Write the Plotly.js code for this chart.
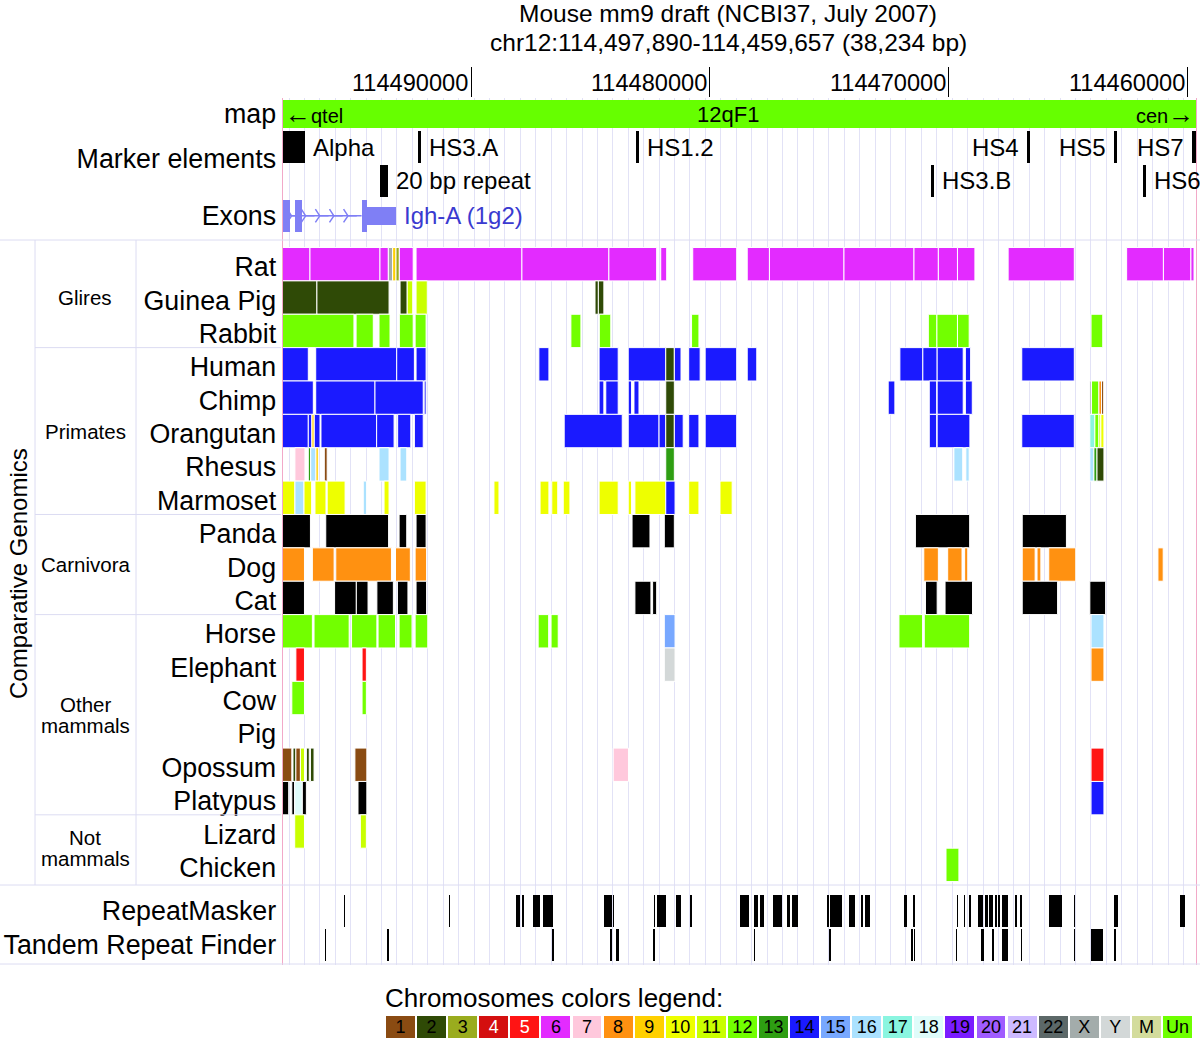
<!DOCTYPE html>
<html><head><meta charset="utf-8">
<script src="https://cdn.plot.ly/plotly-3.0.1.min.js"></script>
<style>html,body{margin:0;padding:0;background:#fff}#chart{width:1200px;height:1039px}</style>
</head><body><div id="chart"></div>
<script>
// ================= DATA =================
const windowStart = 114497890, windowEnd = 114459657;
const titleLines = ['Mouse mm9 draft (NCBI37, July 2007)', 'chr12:114,497,890-114,459,657 (38,234 bp)'];
const axisTicks = [114490000, 114480000, 114470000, 114460000];
const guideStart = 114497618, guideStep = 645.5;   // browser guide lines

const chromNames  = ['1','2','3','4','5','6','7','8','9','10','11','12','13','14','15','16','17','18','19','20','21','22','X','Y','M','Un'];
const chromColors = ['#8a4b12','#2f4a06','#9aac1e','#d40f0f','#ff1414','#e32bff','#ffc8dc','#ff9111','#ffd000','#eeff00','#c9ff00','#72ff00','#2e9e12','#1a1aff','#78a8ff','#abe2ff','#8af5e0','#dffcfa','#7a1cff','#a05cff','#cdbaff','#5c6868','#a3acab','#d3d8d8','#d3dc9c','#6eff00'];
const chromTextColors = ['#000','#000','#000','#fff','#fff','#000','#000','#000','#000','#000','#000','#000','#000','#000','#000','#000','#000','#000','#000','#000','#000','#000','#000','#000','#000','#000'];
const noChromColor = '#000000';   // 'none' = scaffold / unplaced

const mapBand = {name: '12qF1', left: 'qtel', right: 'cen', color: '#66ff00'};

const markerNames = ['Alpha','HS3.A','HS1.2','HS4','HS5','HS7','20 bp repeat','HS3.B','HS6'];
const markerFrom  = [114497860,114492240,114483110,114466710,114463100,114459810,114493790,114470730,114461890];
const markerTo    = [114496930,114492110,114482990,114466590,114462980,114459660,114493460,114470620,114461770];
const markerLine  = [1,1,1,1,1,1,2,2,2];
const markerSide  = ['right','right','right','left','left','left','right','right','right'];

const geneName = 'Igh-A (1g2)';
const exonBlocks = [[114497860,114497590],[114497350,114497060],[114494580,114494370]];
const exonThin   = [[114494370,114493140]];
const intron     = [114497590,114494580];

const species = ['Rat','Guinea Pig','Rabbit','Human','Chimp','Orangutan','Rhesus','Marmoset','Panda','Dog','Cat','Horse','Elephant','Cow','Pig','Opossum','Platypus','Lizard','Chicken'];
const groups = [['Glires',0,2],['Primates',3,7],['Carnivora',8,10],['Other|mammals',11,16],['Not|mammals',17,18]];

const rat = [[114497890,114496740,'6'],[114496740,114493810,'6'],[114493810,114493460,'6'],[114493460,114493280,'X'],[114493280,114493140,'9'],[114493140,114493000,'3'],[114493000,114492420,'6'],
 [114492300,114487870,'6'],[114487870,114484230,'6'],[114484230,114482230,'6'],[114482060,114481810,'6'],
 [114480720,114478880,'6'],[114478440,114477510,'6'],[114477510,114474390,'6'],[114474390,114471460,'6'],[114471460,114470440,'6'],[114470440,114469640,'6'],[114469640,114468910,'6'],
 [114467520,114464750,'6'],[114462560,114461020,'6'],[114461020,114459870,'6'],[114459870,114459740,'6']];
const guineaPig = [[114497890,114496450,'2'],[114496450,114493430,'2'],[114492970,114492670,'2'],[114492670,114492440,'11'],[114492300,114491830,'11'],[114484810,114484670,'2'],[114484670,114484440,'2']];
const rabbit = [[114497890,114494900,'12'],[114494810,114494090,'12'],[114493850,114493390,'12'],[114493000,114492420,'12'],[114492340,114491880,'12'],[114485820,114485400,'12'],[114484630,114484150,'12'],[114480770,114480460,'12'],[114470860,114470500,'12'],[114470500,114469640,'12'],[114469640,114469150,'12'],[114464050,114463560,'12']];
const human = [[114497890,114496810,'14'],[114496500,114493110,'14'],[114493110,114492370,'14'],[114492300,114491880,'14'],[114487160,114486740,'14'],[114484640,114483840,'14'],[114483420,114481850,'14'],[114481850,114481490,'2'],[114481490,114481210,'14'],[114480890,114480410,'14'],[114480200,114478880,'14'],[114478440,114478040,'14'],[114472050,114471090,'14'],[114471090,114470490,'14'],[114470490,114469400,'14'],[114469310,114469090,'14'],[114466950,114464750,'14']];
const chimp = [[114497890,114496600,'14'],[114496500,114494020,'14'],[114494020,114492000,'14'],[114491960,114491880,'14'],[114484640,114484440,'14'],[114484360,114483840,'14'],[114483420,114483280,'14'],[114483180,114482970,'14'],[114481850,114481490,'2'],[114472540,114472260,'14'],[114470820,114470510,'14'],[114470490,114469400,'14'],[114469310,114469020,'14'],[114464100,114464030,'X'],[114464030,114463720,'12'],[114463720,114463610,'8'],[114463610,114463520,'1']];
const orangutan = [[114497890,114496810,'14'],[114496810,114496660,'14'],[114496660,114496560,'9'],[114496560,114496320,'14'],[114496280,114493950,'14'],[114493950,114493220,'14'],[114493070,114492520,'14'],[114492370,114492000,'14'],[114486100,114483670,'14'],[114483420,114482130,'14'],[114482130,114481850,'14'],[114481850,114481490,'2'],[114481490,114481120,'14'],[114480890,114480460,'14'],[114480200,114478880,'14'],[114470820,114470510,'14'],[114470490,114469120,'14'],[114466950,114464750,'14'],[114464100,114463890,'17'],[114463890,114463720,'12'],[114463720,114463640,'11'],[114463640,114463510,'10']];
const rhesus = [[114497370,114496950,'7'],[114496810,114496710,'13'],[114496710,114496490,'16'],[114496490,114496390,'9'],[114496140,114496020,'1'],[114493850,114493430,'16'],[114492970,114492690,'16'],[114481850,114481490,'13'],[114469790,114469420,'16'],[114469290,114469150,'16'],[114464100,114463930,'16'],[114463930,114463800,'13'],[114463800,114463510,'2']];
const marmoset = [[114497890,114497370,'10'],[114497370,114496990,'16'],[114496990,114496670,'10'],[114496530,114496070,'10'],[114496020,114495270,'10'],[114494510,114494370,'16'],[114493640,114493430,'10'],[114492370,114491880,'10'],[114489040,114488830,'10'],[114487110,114486740,'10'],[114486620,114486370,'10'],[114486140,114485860,'10'],[114484640,114483840,'10'],[114483420,114483280,'10'],[114483140,114481850,'10'],[114481850,114481460,'14'],[114480890,114480460,'10'],[114479580,114479070,'10']];
const panda = [[114497890,114496720,'none'],[114496080,114493450,'none'],[114493010,114492690,'none'],[114492300,114491880,'none'],[114483260,114482510,'none'],[114481910,114481490,'none'],[114471400,114469130,'none'],[114466930,114465080,'none']];
const dog = [[114497890,114496970,'8'],[114496640,114495730,'8'],[114495660,114493330,'8'],[114493160,114492540,'8'],[114492340,114491860,'8'],[114471050,114470440,'8'],[114470050,114469450,'8'],[114469340,114469210,'8'],[114466930,114466390,'8'],[114466310,114466150,'8'],[114465820,114464690,'8'],[114461250,114461030,'8']];
const cat = [[114497890,114496970,'none'],[114495710,114494800,'none'],[114494800,114494310,'none'],[114493940,114493250,'none'],[114493080,114492640,'none'],[114492300,114491860,'none'],[114483140,114482470,'none'],[114482400,114482230,'none'],[114470980,114470490,'none'],[114470160,114469010,'none'],[114466930,114465450,'none'],[114464100,114463440,'none']];
const horse = [[114497890,114496640,'12'],[114496570,114495100,'12'],[114495000,114493940,'12'],[114493890,114493160,'12'],[114493010,114492470,'12'],[114492340,114491810,'12'],[114487190,114486750,'12'],[114486650,114486350,'12'],[114481910,114481460,'15'],[114472090,114471100,'12'],[114471030,114469130,'12'],[114464050,114463510,'16']];
const elephant = [[114497330,114496970,'5'],[114494560,114494380,'5'],[114481910,114481460,'Y'],[114464050,114463510,'8']];
const cow = [[114497500,114496970,'12'],[114494560,114494380,'12']];
const pig = [];
const opossum = [[114497890,114497500,'1'],[114497450,114497330,'2'],[114497330,114497140,'1'],[114497140,114496970,'11'],[114496890,114496770,'2'],[114496720,114496570,'2'],[114494860,114494360,'1'],[114484050,114483410,'7'],[114464050,114463510,'5']];
const platypus = [[114497890,114497630,'none'],[114497500,114497380,'none'],[114497380,114497060,'18'],[114497060,114496890,'none'],[114494730,114494360,'none'],[114464050,114463510,'14']];
const lizard = [[114497380,114496970,'11'],[114494630,114494380,'11']];
const chicken = [[114470120,114469580,'12']];
const speciesData = [rat,guineaPig,rabbit,human,chimp,orangutan,rhesus,marmoset,panda,dog,cat,horse,elephant,cow,pig,opossum,platypus,lizard,chicken];

const repeatMasker = [[114495320,114495270],[114490920,114490880],[114488100,114487930],[114487850,114487800],[114487390,114487110],[114486990,114486820],[114486800,114486550],[114484440,114484090],[114484050,114484000],[114482350,114482280],[114482200,114481860],[114481420,114481220],[114480850,114480750],[114478760,114478350],[114478150,114477980],[114477910,114477730],[114477360,114476990],[114476780,114476630],[114476550,114476330],[114475100,114475030],[114474980,114474490],[114474170,114473930],[114473680,114473600],[114473510,114473290],[114471890,114471770],[114471520,114471400],[114469680,114469600],[114469380,114469310],[114469160,114469060],[114468770,114468570],[114468470,114468380],[114468330,114468160],[114468080,114467980],[114467960,114467860],[114467790,114467540],[114467220,114467150],[114467030,114466950],[114465820,114465260],[114464770,114464720],[114463070,114462920],[114460320,114460120]];
const tandemRepeats = [[114496100,114496050],[114493500,114493450],[114486620,114486530],[114484170,114484090],[114483920,114483820],[114482380,114482300],[114478150,114478100],[114475010,114474930],[114471570,114471500],[114471470,114471400],[114469720,114469650],[114468650,114468550],[114468210,114468110],[114467790,114467520],[114467000,114466930],[114464770,114464720],[114464050,114463540],[114463070,114462990]];

// ================= LAYOUT HELPERS =================
const W = 1200, H = 1039;
const px = v => v / W;              // pixel -> paper x
const py = v => 1 - v / H;          // pixel -> paper y
const SANS = 'Liberation Sans, Arial, Helvetica, sans-serif';
const colorOf = {none: noChromColor};
chromNames.forEach((c, i) => colorOf[c] = chromColors[i]);

const ROW_MAP = 0, ROW_EXON = 3.05, SPECIES0 = 4.5, ROW_RM = 23.88, ROW_TRF = 24.89;
const speciesRow = i => SPECIES0 + i;

function segs(list, row, getColor) {
  const o = {base: [], x: [], y: [], c: []};
  list.forEach(s => { o.base.push(Math.min(s[0], s[1])); o.x.push(Math.abs(s[0] - s[1])); o.y.push(row); o.c.push(getColor(s)); });
  return o;
}
function barTrace(o, width, lineW) {
  return {type: 'bar', orientation: 'h', base: o.base, x: o.x, y: o.y, width: width,
    marker: {color: o.c, line: {color: '#ffffff', width: lineW}}, hoverinfo: 'skip', xaxis: 'x', yaxis: 'y'};
}

const traces = [];
// map band
traces.push(barTrace(segs([[windowStart, windowEnd]], ROW_MAP, () => mapBand.color), 0.84, 0));
// markers
const mk = {base: [], x: [], y: [], c: []};
markerNames.forEach((n, i) => { mk.base.push(Math.min(markerFrom[i], markerTo[i])); mk.x.push(Math.abs(markerFrom[i] - markerTo[i])); mk.y.push(markerLine[i]); mk.c.push('#000'); });
traces.push(barTrace(mk, 0.96, 0));
// exons
const EXON = '#7f7ff5';
traces.push({type: 'scatter', mode: 'lines', x: intron, y: [ROW_EXON, ROW_EXON], line: {color: EXON, width: 1.5}, hoverinfo: 'skip'});
const chev = [];
for (let p = intron[0] - 80; p > intron[1] + 60; p -= 590) {
  if (!exonBlocks.some(b => p <= b[0] && p >= b[1])) chev.push(p);
}
traces.push({type: 'scatter', mode: 'markers', x: chev, y: chev.map(() => ROW_EXON),
  marker: {symbol: 'y-right', size: 11, color: EXON, line: {color: EXON, width: 1.5}}, hoverinfo: 'skip'});
traces.push(barTrace(segs(exonBlocks, ROW_EXON, () => EXON), 0.96, 0));
traces.push(barTrace(segs(exonThin, ROW_EXON, () => EXON), 0.55, 0));
// species
const sp = {base: [], x: [], y: [], c: []};
speciesData.forEach((list, i) => {
  const o = segs(list, speciesRow(i), s => colorOf[s[2]]);
  sp.base.push(...o.base); sp.x.push(...o.x); sp.y.push(...o.y); sp.c.push(...o.c);
});
traces.push(barTrace(sp, 1.0, 1));
// repeats
traces.push(barTrace(segs(repeatMasker, ROW_RM, () => '#000'), 0.96, 0));
traces.push(barTrace(segs(tandemRepeats, ROW_TRF, () => '#000'), 0.96, 0));
// chromosome colour legend
traces.push({type: 'bar', x: chromNames, y: chromNames.map(() => 1), xaxis: 'x2', yaxis: 'y2', width: 0.93,
  marker: {color: chromColors, line: {width: 0}}, text: chromNames, textposition: 'inside', insidetextanchor: 'middle',
  textangle: 0, constraintext: 'none', textfont: {family: SANS, size: 18, color: chromTextColors}, hoverinfo: 'skip'});

// ================= ANNOTATIONS =================
const ann = [];
titleLines.forEach((t, i) => ann.push({text: t, xref: 'paper', yref: 'paper', x: px(728), y: py(14 + i * 29), showarrow: false,
  font: {family: SANS, size: 24.5, color: '#000'}, xanchor: 'center', yanchor: 'middle'}));
axisTicks.forEach(v => ann.push({text: String(v), xref: 'x', yref: 'paper', x: v, y: py(83), xanchor: 'right', yanchor: 'middle',
  xshift: -1, showarrow: false, font: {family: SANS, size: 23.6, color: '#000'}}));
// map labels
ann.push({text: mapBand.name, xref: 'x', yref: 'y', x: (windowStart + windowEnd) / 2, y: ROW_MAP, xshift: -11, showarrow: false,
  xanchor: 'center', yanchor: 'middle', font: {family: SANS, size: 22, color: '#000'}});
ann.push({text: '<span style="font-size:26px"><b>\u2190</b></span>' + mapBand.left, xref: 'x', yref: 'y', x: windowStart, y: ROW_MAP, xanchor: 'left', yanchor: 'middle', xshift: 0, showarrow: false,
  font: {family: SANS, size: 20, color: '#000'}});
ann.push({text: mapBand.right + '<span style="font-size:26px"><b>\u2192</b></span>', xref: 'x', yref: 'y', x: windowEnd, y: ROW_MAP, xanchor: 'right', yanchor: 'middle', xshift: 0, showarrow: false,
  font: {family: SANS, size: 20, color: '#000'}});
// marker labels
markerNames.forEach((n, i) => {
  const right = markerSide[i] === 'right';
  ann.push({text: n, xref: 'x', yref: 'y', x: right ? Math.min(markerFrom[i], markerTo[i]) : Math.max(markerFrom[i], markerTo[i]),
    y: markerLine[i], xanchor: right ? 'left' : 'right', yanchor: 'middle', xshift: right ? 6 : -6, showarrow: false,
    font: {family: SANS, size: 24, color: '#000'}});
});
ann.push({text: geneName, xref: 'x', yref: 'y', x: exonThin[0][1], y: ROW_EXON, xanchor: 'left', yanchor: 'middle', xshift: 6, showarrow: false,
  font: {family: SANS, size: 24, color: '#3a3ad0'}});
// group labels
groups.forEach(([g, a, b]) => {
  const yc = (speciesRow(a) + speciesRow(b)) / 2;
  const parts = g.split('|');
  parts.forEach((p, k) => ann.push({text: p, xref: 'paper', yref: 'y', x: px(85), y: yc, yshift: parts.length > 1 ? (k === 0 ? 10.5 : -10.5) : 0,
    showarrow: false, font: {family: SANS, size: 20.5, color: '#000'}, xanchor: 'center', yanchor: 'middle'}));
});
ann.push({text: 'Comparative Genomics', xref: 'paper', yref: 'paper', x: px(18), y: py(574), xanchor: 'center', yanchor: 'middle', textangle: -90, showarrow: false,
  font: {family: SANS, size: 24, color: '#000'}});
ann.push({text: 'Chromosomes colors legend:', xref: 'paper', yref: 'paper', x: px(383), y: py(998), xanchor: 'left', yanchor: 'middle',
  showarrow: false, font: {family: SANS, size: 26, color: '#000'}});

// ================= SHAPES (frame lines) =================
const LINE = '#dcdcf2';
const shapes = [];
[240, 885, 964].forEach(v => shapes.push({type: 'line', xref: 'paper', yref: 'paper', x0: 0, x1: 1, y0: py(v), y1: py(v), line: {color: LINE, width: 1}}));
[35, 136].forEach(v => shapes.push({type: 'line', xref: 'paper', yref: 'paper', x0: px(v), x1: px(v), y0: py(240), y1: py(885), line: {color: LINE, width: 1}}));
groups.slice(0, -1).forEach(([g, a, b]) => shapes.push({type: 'line', xref: 'paper', yref: 'y', x0: px(35), x1: px(281), y0: speciesRow(b) + 0.5, y1: speciesRow(b) + 0.5, line: {color: LINE, width: 1}}));

// y tick labels
const tickVals = [ROW_MAP, 1.35, ROW_EXON].concat(species.map((s, i) => speciesRow(i) + 0.08), [ROW_RM, ROW_TRF]);
const tickText = ['map', 'Marker elements', 'Exons'].concat(species, ['RepeatMasker', 'Tandem Repeat Finder']);

const layout = {
  width: W, height: H, margin: {l: 0, r: 0, t: 0, b: 0}, paper_bgcolor: '#fff', plot_bgcolor: '#fff',
  showlegend: false, barmode: 'overlay', bargap: 0,
  xaxis: {domain: [px(282.5), px(1196)], range: [windowStart, windowEnd], side: 'top', tickmode: 'array', tickvals: axisTicks,
    ticks: 'outside', ticklen: 30, tickwidth: 1, tickcolor: '#000', showticklabels: false, showgrid: false, zeroline: false, showline: false,
    minor: {tickmode: 'linear', tick0: guideStart, dtick: guideStep, showgrid: true, gridcolor: '#e2e2f6', gridwidth: 1, ticks: ''},
    fixedrange: true},
  yaxis: {domain: [py(965), py(98)], range: [25.5, -0.48], tickmode: 'array', tickvals: tickVals, ticktext: tickText, ticks: '',
    tickfont: {family: SANS, size: 26.8, color: '#000'}, showgrid: false, zeroline: false, showline: true, mirror: true,
    linecolor: '#f2a9c8', linewidth: 1, fixedrange: true},
  xaxis2: {domain: [px(385), px(1193)], anchor: 'y2', type: 'category', categoryorder: 'array', categoryarray: chromNames,
    showticklabels: false, showgrid: false, zeroline: false, showline: false, ticks: ''},
  yaxis2: {domain: [py(1038), py(1016)], anchor: 'x2', range: [0, 1], showticklabels: false, showgrid: false, zeroline: false, showline: false},
  annotations: ann, shapes: shapes
};
Plotly.newPlot('chart', traces, layout, {displayModeBar: false, staticPlot: true});
</script></body></html>
